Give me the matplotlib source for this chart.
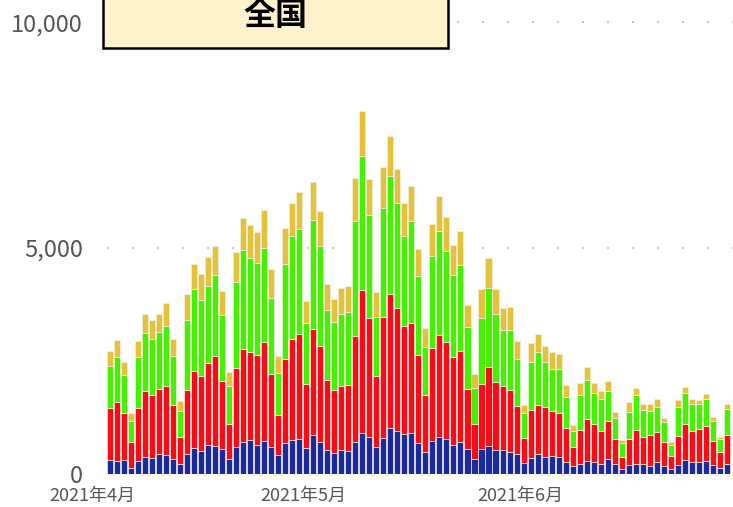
import numpy as np
import pandas as pd
import matplotlib
matplotlib.use("Agg")
import matplotlib.pyplot as plt
from matplotlib.patches import Rectangle

plt.rcParams['font.family'] = ['Noto Sans CJK JP', 'DejaVu Sans']

# 日別の値 (2021-04-03 から)
start_date = '2021-04-03'
blue = [311, 296, 318, 141, 296, 370, 363, 444, 422, 340,
        215, 444, 585, 503, 636, 629, 548, 326, 592, 718,
        747, 651, 733, 592, 422, 681, 755, 770, 570,
        858, 718, 525, 474, 540, 503, 718, 918, 829, 607,
        799, 1029, 962, 881, 903, 688, 496, 725, 829, 784,
        651, 718, 548, 326, 555, 629, 525, 533, 496,
        444, 244, 363, 444, 385, 407, 370, 274, 170, 229,
        289, 274, 215, 326, 215, 104, 192, 229, 215, 185,
        259, 178, 104, 207, 311, 266, 266, 281, 207, 141, 222]
red = [1154, 1295, 1021, 569, 1169, 1473, 1391, 1428, 1517, 1184,
       606, 1413, 1702, 1673, 1813, 1983, 1517, 784, 1754, 2050,
       1947, 1991, 2190, 1628, 880, 1872, 2227, 2323, 1428,
       2346, 2109, 1547, 1391, 1414, 1473, 2346, 3152, 2627, 1554,
       2686, 2945, 2716, 2390, 2449, 1954, 1258, 2057, 2257, 2132,
       1939, 1998, 1332, 791, 1428, 1739, 1517, 1406, 1369,
       1066, 563, 1043, 1088, 1088, 977, 977, 740, 422, 748,
       925, 829, 747, 851, 555, 273, 578, 748, 614, 673,
       666, 525, 296, 644, 799, 696, 726, 785, 518, 347, 636]
green = [933, 1006, 859, 467, 1125, 1287, 1228, 1273, 1332, 1096,
         578, 1547, 1798, 1672, 1710, 1798, 1450, 829, 1894, 2183,
         2094, 2020, 2072, 1672, 940, 2087, 2287, 2324, 1347,
         2420, 2220, 1554, 1502, 1591, 1606, 2538, 2975, 2272, 1324,
         2405, 2612, 2309, 1998, 2250, 1739, 1065, 2043, 2294, 2020,
         1806, 1909, 1369, 777, 1465, 1739, 1488, 1258, 1317,
         1043, 532, 1080, 1162, 999, 940, 977, 681, 370, 762,
         858, 688, 688, 666, 466, 304, 606, 762, 577, 526,
         562, 437, 244, 629, 681, 592, 562, 584, 452, 282, 570]
gold = [333, 378, 281, 162, 363, 400, 437, 400, 503, 370,
        222, 577, 570, 570, 644, 637, 533, 318, 674, 725,
        725, 703, 844, 644, 363, 799, 732, 829, 488,
        829, 777, 585, 511, 577, 577, 940, 984, 799, 541,
        903, 888, 762, 732, 762, 599, 407, 718, 762, 747,
        673, 755, 488, 326, 652, 681, 570, 466, 518,
        400, 185, 407, 414, 370, 384, 340, 266, 133, 274,
        303, 222, 178, 222, 126, 66, 208, 155, 148, 170,
        171, 96, 74, 155, 140, 104, 89, 111, 81, 51, 111]

tick_dates = ['2021-04-01', '2021-05-01', '2021-06-01']
tick_labels = ['2021年4月', '2021年5月', '2021年6月']
y_ticks = [0, 5000, 10000]

series = [blue, red, green, gold]
colors = ['#1b2a9c', '#fb0a17', '#45f000', '#e4c23c']

dates = pd.date_range(start_date, periods=len(blue))
x = np.arange(len(dates))

fig = plt.figure(figsize=(7.33, 5.07), dpi=100)
ax = fig.add_axes([106.7 / 733, 33 / 507, 1 - 106.7 / 733, 474 / 507])

bottom = np.zeros(len(x))
for vals, c in zip(series, colors):
    ax.bar(x, vals, bottom=bottom, width=0.86, color=c,
           edgecolor='#f4eee0', linewidth=0.5, zorder=3)
    bottom += np.array(vals)

# 目盛り
ax.set_xticks([])
ax.set_yticks(y_ticks)
ax.set_yticklabels([f'{v:,}' for v in y_ticks], fontsize=17, color='#555555')
ax.tick_params(axis='both', length=0)
ax.tick_params(axis='y', pad=17)

ax.set_xlim(-0.5, 88.9)
ax.set_ylim(0, 10490)

# 月のラベル (4月1日は描画範囲の外なので手で置く)
for d, lab in zip(tick_dates, tick_labels):
    p = (pd.Timestamp(d) - dates[0]).days - 0.5
    ax.text(p, -22 / 474, lab, transform=ax.get_xaxis_transform(),
            ha='center', va='center', fontsize=13, color='#555555', clip_on=False)

for v in y_ticks[1:]:
    ax.axhline(v, color='#c8c8c8', linestyle=(0, (1, 11)), linewidth=1.5, zorder=1)

for s in ax.spines.values():
    s.set_visible(False)

# タイトルの枠
fig.patches.append(Rectangle((102.5 / 733, 1 - 47.5 / 507), (448 - 102.5) / 733, 60 / 507,
                             transform=fig.transFigure, facecolor='#fff2cc',
                             edgecolor='black', linewidth=1.8, zorder=5))
fig.text(275 / 733, 1 - 16 / 507, '全国', fontsize=23, fontweight='bold',
         ha='center', va='center', zorder=6)

fig.savefig('out.png', dpi=100)
